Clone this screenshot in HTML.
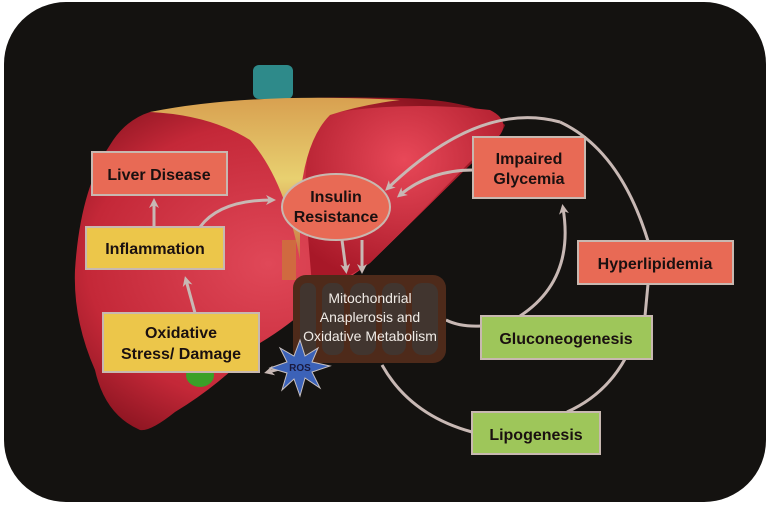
<!DOCTYPE html>
<html><head><meta charset="utf-8"><style>
html,body{margin:0;padding:0;background:#fff;}
svg{display:block}
text{font-family:"Liberation Sans",sans-serif;font-weight:bold;}
text.n{font-weight:normal;}
</style></head><body>
<svg width="768" height="512" viewBox="0 0 768 512" xmlns="http://www.w3.org/2000/svg">
<defs>
<radialGradient id="lv" cx="0.45" cy="0.5" r="0.6">
<stop offset="0" stop-color="#e04858"/><stop offset="0.7" stop-color="#c42838"/><stop offset="1" stop-color="#8a1420"/>
</radialGradient>
<radialGradient id="lv2" cx="0.5" cy="0.3" r="0.7">
<stop offset="0" stop-color="#e84858"/><stop offset="1" stop-color="#a81828"/>
</radialGradient>
<linearGradient id="yb" x1="0" y1="0" x2="0" y2="1">
<stop offset="0" stop-color="#d8a050"/><stop offset="0.5" stop-color="#e8d070"/><stop offset="1" stop-color="#c87040"/>
</linearGradient>
<marker id="ah" markerWidth="10" markerHeight="10" refX="6" refY="5" orient="auto" markerUnits="userSpaceOnUse">
<path d="M0,0 L10,5 L0,10 L3,5 Z" fill="#c8b8b4"/>
</marker>
</defs>
<rect x="4" y="2" width="762" height="500" rx="62" fill="#141210"/>
<!-- liver -->
<rect x="253" y="65" width="40" height="34" rx="6" fill="#2e8a8a"/>
<path d="M150,112 Q250,95 400,98 Q480,100 505,125 Q500,140 470,165 L370,263 L313,303 Q290,325 260,343 Q220,385 175,412 Q150,432 140,430 Q105,415 95,370 Q73,320 75,270 Q80,190 110,145 Q125,120 150,112 Z" fill="url(#lv)"/>
<path d="M320,115 Q400,100 490,110 Q510,120 500,135 L470,162 L370,263 Q330,290 312,285 L305,200 Q305,140 320,115 Z" fill="url(#lv2)"/>
<path d="M150,112 Q250,92 400,100 Q360,105 330,115 Q305,140 300,200 L300,260 Q285,180 250,140 Q210,115 150,112 Z" fill="url(#yb)"/>
<rect x="282" y="240" width="14" height="40" fill="#d06a40"/>
<ellipse cx="200" cy="375" rx="14" ry="12" fill="#3aa028"/>
<!-- connectors -->
<g fill="none" stroke="#c8b8b4" stroke-width="3">
<path d="M560,122 Q480,100 388,188" marker-end="url(#ah)"/>
<path d="M560,122 Q620,150 648,241"/>
<path d="M648,284 L645,316"/>
<path d="M625,359 Q605,395 567,412"/>
<path d="M473,170 Q430,170 400,195" marker-end="url(#ah)"/>
<path d="M520,316 Q575,280 563,208" marker-end="url(#ah)"/>
<path d="M446,320 Q460,327 481,326"/>
<path d="M472,432 Q410,415 382,365"/>
<path d="M200,227 Q220,200 272,200" marker-end="url(#ah)"/>
<path d="M154,227 L154,202" marker-end="url(#ah)"/>
<path d="M195,313 L186,280" marker-end="url(#ah)"/>
<path d="M342,240 L346,270" marker-end="url(#ah)"/>
<path d="M362,240 L362,270" marker-end="url(#ah)"/>
<path d="M290,366 L268,372" marker-end="url(#ah)"/>
</g>
<!-- mito -->
<rect x="293" y="275" width="153" height="88" rx="13" fill="#4e2a1a"/>
<g fill="#3e3835" opacity="0.8">
<rect x="300" y="283" width="16" height="72" rx="7"/>
<rect x="322" y="283" width="22" height="72" rx="9"/>
<rect x="350" y="283" width="26" height="72" rx="10"/>
<rect x="382" y="283" width="24" height="72" rx="10"/>
<rect x="412" y="283" width="26" height="72" rx="10"/>
</g>
<text class="n" x="370" y="303" font-size="14" fill="#f0ebe6" text-anchor="middle">Mitochondrial</text>
<text class="n" x="370" y="322" font-size="14" fill="#f0ebe6" text-anchor="middle">Anaplerosis and</text>
<text class="n" x="370" y="341" font-size="14" fill="#f0ebe6" text-anchor="middle">Oxidative Metabolism</text>
<!-- ROS star -->
<polygon points="300,340 305,356 318,348 312,362 330,366 312,372 320,388 305,378 300,396 294,379 282,390 287,373 270,368 287,362 280,348 294,356" fill="#3c62b8" stroke="#c8c0c0" stroke-width="1"/>
<text x="300" y="371" font-size="10" fill="#1a1a40" text-anchor="middle">ROS</text>
<!-- boxes -->
<g stroke="#c8b8b0" stroke-width="2">
<rect x="92" y="152" width="135" height="43" fill="#e86a55"/>
<rect x="86" y="227" width="138" height="42" fill="#ecc64a"/>
<rect x="103" y="313" width="156" height="59" fill="#ecc64a"/>
<ellipse cx="336" cy="207" rx="54" ry="33" fill="#e86a55"/>
<rect x="473" y="137" width="112" height="61" fill="#e86a55"/>
<rect x="578" y="241" width="155" height="43" fill="#e86a55"/>
<rect x="481" y="316" width="171" height="43" fill="#9ec65a"/>
<rect x="472" y="412" width="128" height="42" fill="#9ec65a"/>
</g>
<g font-size="16" fill="#1a1010" text-anchor="middle">
<text x="159" y="180">Liver Disease</text>
<text x="155" y="254">Inflammation</text>
<text x="181" y="338">Oxidative</text>
<text x="181" y="359">Stress/ Damage</text>
<text x="336" y="202">Insulin</text>
<text x="336" y="222">Resistance</text>
<text x="529" y="164">Impaired</text>
<text x="529" y="184">Glycemia</text>
<text x="655" y="269">Hyperlipidemia</text>
<text x="566" y="344">Gluconeogenesis</text>
<text x="536" y="440">Lipogenesis</text>
</g>
</svg>
</body></html>
